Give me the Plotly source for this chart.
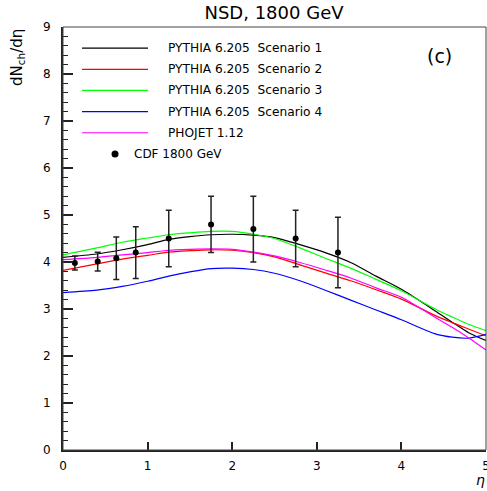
import plotly.graph_objects as go

# ---- data ----
eta = [0, 0.4, 0.7, 1.0, 1.25, 1.5, 1.75, 2.0, 2.25, 2.5, 2.8, 3.1, 3.4, 3.7, 4.0, 4.4, 4.6, 4.8, 5.0]
scen1 = [4.10, 4.17, 4.26, 4.37, 4.48, 4.54, 4.58, 4.59, 4.57, 4.52, 4.37, 4.20, 3.99, 3.70, 3.42, 2.96, 2.72, 2.49, 2.33]
scen2 = [3.82, 3.96, 4.06, 4.14, 4.21, 4.24, 4.26, 4.25, 4.20, 4.11, 3.94, 3.77, 3.60, 3.41, 3.21, 2.86, 2.71, 2.57, 2.43]
scen3 = [4.15, 4.30, 4.42, 4.51, 4.58, 4.62, 4.65, 4.65, 4.59, 4.50, 4.30, 4.08, 3.87, 3.63, 3.39, 3.00, 2.83, 2.67, 2.54]
scen4 = [3.35, 3.40, 3.48, 3.59, 3.70, 3.79, 3.86, 3.87, 3.84, 3.76, 3.60, 3.40, 3.19, 2.98, 2.77, 2.47, 2.40, 2.38, 2.46]
phojet = [4.05, 4.10, 4.15, 4.20, 4.25, 4.27, 4.28, 4.27, 4.21, 4.13, 3.99, 3.83, 3.66, 3.45, 3.25, 2.82, 2.61, 2.38, 2.13]

cdf_eta = [0.14, 0.41, 0.63, 0.86, 1.25, 1.75, 2.25, 2.75, 3.25]
cdf_val = [3.98, 4.01, 4.08, 4.20, 4.50, 4.80, 4.70, 4.50, 4.20]
cdf_err = [0.15, 0.20, 0.45, 0.55, 0.60, 0.60, 0.70, 0.60, 0.75]

names = ["PYTHIA 6.205\u00a0\u00a0Scenario 1", "PYTHIA 6.205\u00a0\u00a0Scenario 2",
         "PYTHIA 6.205\u00a0\u00a0Scenario 3", "PYTHIA 6.205\u00a0\u00a0Scenario 4",
         "PHOJET 1.12"]
colors = ["#000000", "#ff0000", "#00ff00", "#0000ff", "#ff00ff"]
series = [scen1, scen2, scen3, scen4, phojet]
cdf_name = "CDF 1800 GeV"
x_ticks = [0, 1, 2, 3, 4, 5]
y_ticks = [0, 1, 2, 3, 4, 5, 6, 7, 8, 9]

FONT = "DejaVu Sans"
W, H = 487, 491

fig = go.Figure()
for s, c, n in zip(series, colors, names):
    fig.add_trace(go.Scatter(x=eta, y=s, mode="lines", name=n,
                             line=dict(color=c, width=1.2, shape="spline", smoothing=0.8),
                             showlegend=False))

fig.add_trace(go.Scatter(x=cdf_eta, y=cdf_val, mode="markers", name=cdf_name,
                         marker=dict(color="black", size=6),
                         error_y=dict(type="data", array=cdf_err, color="#222222",
                                      thickness=1.5, width=3),
                         showlegend=False))

shapes = []
annotations = []
# manual legend
row_y = [0.95 - 0.05 * i for i in range(6)]
for i, (c, n) in enumerate(zip(colors, names)):
    shapes.append(dict(type="line", xref="paper", yref="paper",
                       x0=0.045, x1=0.201, y0=row_y[i], y1=row_y[i],
                       line=dict(color=c, width=1.2)))
    annotations.append(dict(xref="paper", yref="paper", x=0.2435, y=row_y[i],
                            text=n, showarrow=False, xanchor="left", yanchor="middle",
                            font=dict(family=FONT, size=12.2, color="black")))
shapes.append(dict(type="circle", xref="paper", yref="paper",
                   xsizemode="pixel", ysizemode="pixel",
                   xanchor=0.123, yanchor=row_y[5], x0=-3.5, x1=3.5, y0=-3.5, y1=3.5,
                   fillcolor="black", line=dict(color="black", width=0)))
annotations.append(dict(xref="paper", yref="paper", x=0.1631, y=row_y[5],
                        text=cdf_name, showarrow=False, xanchor="left", yanchor="middle",
                        font=dict(family=FONT, size=12, color="black")))
# frame
shapes.append(dict(type="rect", xref="paper", yref="paper", x0=0, x1=1, y0=0, y1=1,
                   line=dict(color="#444444", width=1), layer="above"))

annotations.append(dict(xref="paper", yref="paper", x=0.891, y=0.931, text="(c)",
                        showarrow=False, xanchor="center", yanchor="middle",
                        font=dict(family=FONT, size=19, color="black")))
annotations.append(dict(xref="paper", yref="paper", x=-0.109, y=0.929,
                        text="dN<sub>ch</sub>/dη", textangle=-90, showarrow=False,
                        xanchor="center", yanchor="middle",
                        font=dict(family=FONT, size=15, color="black")))
annotations.append(dict(xref="paper", yref="paper", x=0.986, y=-0.072,
                        text="<i>η</i>", showarrow=False, xanchor="center", yanchor="middle",
                        font=dict(family=FONT, size=14, color="black")))

fig.update_layout(
    width=W, height=H,
    margin=dict(l=63, r=1, t=27, b=41, autoexpand=False),
    paper_bgcolor="white", plot_bgcolor="white",
    title=dict(text="NSD, 1800 GeV", x=274 / W, xanchor="center", y=1 - 13 / H, yanchor="middle",
               font=dict(family=FONT, size=18, color="black")),
    shapes=shapes, annotations=annotations,
    xaxis=dict(range=[0, 5], tickvals=x_ticks, ticks="inside", ticklen=8, tickwidth=1.5,
               tickcolor="#222", showgrid=False, zeroline=False, showline=True,
               linecolor="#222", linewidth=2, ticklabelstandoff=4,
               ticklabeloverflow="allow", automargin=False,
               tickfont=dict(family=FONT, size=12, color="black")),
    yaxis=dict(range=[0, 9], tickvals=y_ticks, ticks="inside", ticklen=10, tickwidth=1.5,
               tickcolor="#222", showgrid=False, zeroline=False, showline=True,
               linecolor="#222", linewidth=2, ticklabelstandoff=8, automargin=False,
               minor=dict(dtick=0.2, ticks="inside", ticklen=5, tickcolor="#222", tickwidth=1),
               tickfont=dict(family=FONT, size=12, color="black")),
)

fig.write_html("out.html",
               config={"displayModeBar": False},
               post_script="document.body.style.margin='0';document.body.style.overflow='hidden';")
